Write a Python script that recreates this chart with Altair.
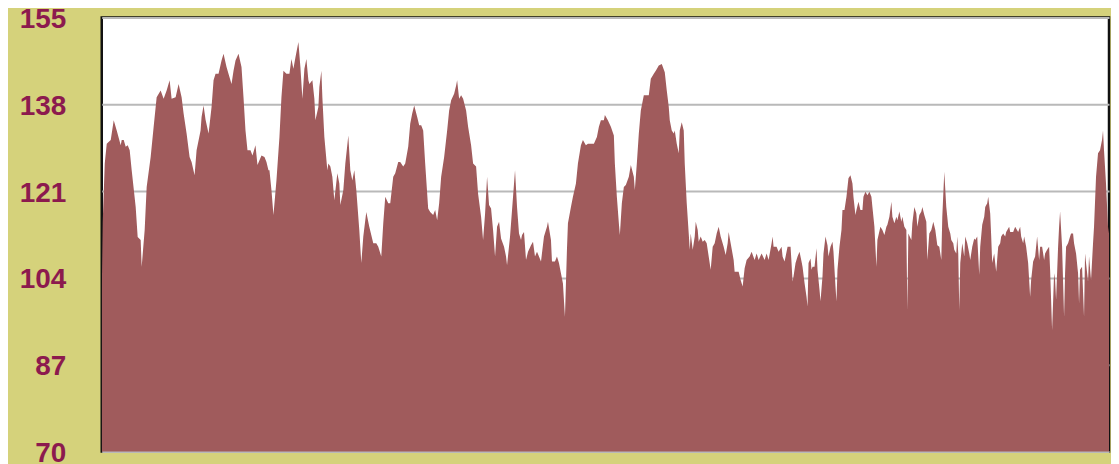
import altair as alt
import pandas as pd

# position along the series (sample index) and value
pos = [
    0, 1, 3, 5, 9, 12, 15, 19, 20, 22, 24, 26, 28, 30, 34, 36, 39, 40, 43, 45, 49, 52, 55, 59, 62, 65, 68, 70,
    74, 77, 80, 82, 85, 88, 90, 93, 95, 99, 100, 102, 104, 107, 110, 112, 114, 117, 120, 122, 125, 128, 130,
    132, 134, 137, 140, 142, 144, 146, 149, 151, 154, 156, 160, 163, 165, 167,
    168, 170, 172, 175, 178, 180, 182, 185, 188, 190, 192, 194, 197, 199, 201, 203, 205, 207, 208, 211, 213,
    214, 217, 218, 220, 221, 223, 226, 227, 229, 231, 233, 236, 238, 239, 242, 244, 247, 249, 251, 253, 255,
    258, 260, 262, 265, 268, 270, 272, 275, 277, 280, 282, 284, 287, 289, 292, 294, 297, 299, 302, 304, 307,
    309, 311, 313, 316, 318, 320, 322, 324, 327, 329, 332, 334,
    336, 338, 340, 343, 346, 348, 350, 353, 355, 356, 358, 360, 362, 365, 367, 370, 372, 375, 377, 380, 382,
    384, 386, 388, 390, 392, 394, 396, 398, 400, 403, 405, 406, 409, 411, 413, 414, 416, 418, 420, 421, 423,
    425, 427, 430, 432, 434, 436, 438, 440, 443, 446, 447, 450, 451, 454, 456, 458, 460, 462, 464, 466, 467,
    470, 472, 475, 477, 480, 482, 485, 487, 490, 493, 496, 498, 500, 503,
    504, 507, 510, 513, 514, 516, 518, 519, 521, 523, 525, 528, 530, 533, 534, 536, 538, 540, 543, 546, 548,
    550, 553, 555, 558, 561, 564, 566, 568, 569, 571, 573, 574, 576, 578, 579, 581, 583, 584, 586, 588, 589,
    590, 592, 594, 595, 597, 598, 600, 602, 604, 606, 608, 610, 612, 614, 616, 618, 620, 623, 625, 627, 628,
    630, 633, 634, 638, 640, 642, 644, 646, 649, 651, 654, 656, 658, 661, 664, 666, 668, 671,
    672, 673, 676, 678, 681, 682, 684, 686, 687, 690, 691, 692, 693, 695, 697, 699, 701, 702, 704, 706, 707,
    708, 710, 711, 712, 714, 716, 717, 719, 720, 722, 723, 725, 727, 728, 730, 732, 733, 735, 736, 737, 739,
    741, 742, 744, 746, 748, 750, 752, 753, 755, 756, 758, 760, 762, 763, 765, 767, 769, 771, 772, 774, 776,
    777, 780, 782, 784, 786, 787, 789, 791, 792, 794, 796, 797, 799, 801, 802, 804, 806, 807, 808, 811, 812,
    814, 816, 817, 819, 821, 822, 824, 826, 827, 829, 831, 833, 835, 837, 839,
    841, 842, 844, 846, 848, 850, 851, 853, 854, 856, 857, 858, 859, 860, 862, 864, 865, 867, 869, 870, 872,
    874, 875, 877, 879, 880, 882, 884, 885, 887, 888, 890, 891, 892, 894, 895, 896, 898, 900, 901, 903, 905,
    906, 909, 910, 913, 915, 918, 920, 921, 923, 924, 926, 928, 930, 931, 933, 935, 937, 939, 940, 942, 944,
    945, 947, 949, 950, 952, 954, 955, 956, 958, 959, 960, 962, 964, 965, 966, 968, 970, 971, 973, 974, 976,
    978, 979, 980, 982, 984, 985, 986, 988, 989, 991, 993, 994, 996, 998, 1000, 1002, 1003, 1004, 1006, 1008,
    1009,
]

val = [
    101.0, 115.0, 126.4, 130.3, 131.0, 134.9, 132.9, 130.0, 131.0, 131.0, 129.7, 130.0, 129.0, 125.1, 117.9,
    112.0, 111.4, 106.2, 113.4, 121.8, 127.7, 133.6, 139.4, 140.7, 139.1, 140.7, 142.7, 139.1, 139.4, 142.0,
    139.4, 136.2, 132.3, 127.7, 126.7, 124.1, 129.0, 132.9, 135.5, 137.8, 135.0, 132.3, 137.5, 142.7, 144.0,
    144.0, 146.6, 147.9, 145.3, 143.3, 142.0, 144.6, 146.6, 147.9, 145.3, 139.4, 132.9, 129.0, 129.0, 128.0,
    130.0, 126.1, 128.0, 127.7, 126.7, 125.1,
    125.1, 121.2, 116.3, 123.1, 131.6, 139.4, 144.6, 144.0, 144.0, 146.9, 145.0, 147.2, 150.2, 145.3, 139.1,
    145.0, 146.9, 142.7, 142.0, 142.7, 139.1, 134.9, 137.5, 141.4, 144.6, 139.4, 131.6, 125.1, 126.4, 125.8,
    123.8, 119.2, 124.5, 122.5, 118.3, 121.2, 126.4, 131.9, 125.1, 123.1, 125.1, 121.2, 113.4, 106.9, 112.1,
    116.9, 114.0, 112.4, 110.8, 110.8, 110.1, 108.2, 114.7, 119.9, 118.6, 118.6, 123.8, 124.5, 126.7, 126.7,
    125.8, 126.4, 129.7, 134.2, 136.2, 137.8, 135.5, 133.9, 133.9, 132.9, 126.4, 117.6, 116.9, 116.3, 117.3,
    115.3, 118.6, 123.8, 127.7, 132.9, 136.8, 138.8, 140.1, 141.7, 142.7, 139.1, 139.8, 139.1, 136.8, 133.6,
    130.0, 126.4, 125.8, 120.5, 116.0, 111.4, 116.6, 123.8, 118.3, 117.6, 113.4, 108.2, 114.0, 115.0, 111.7,
    110.1, 108.2, 106.5, 112.1, 117.3, 122.5, 125.1, 117.9, 112.7, 111.4, 112.4, 113.0, 107.5, 109.1, 110.4,
    111.1, 108.2, 109.1, 108.2, 107.2, 112.1, 114.0, 115.0, 111.4, 107.2, 107.2, 108.2, 106.9, 104.9, 102.9,
    96.4, 109.5, 114.7, 117.9, 119.9, 122.5, 126.4, 130.0, 131.0, 130.0, 130.3, 130.3, 130.3, 131.6, 133.6,
    134.9, 134.9,
    135.9, 134.9, 133.6, 131.9, 126.4, 119.9, 114.7, 112.4, 118.6, 121.8, 122.2, 123.8, 126.1, 123.8, 121.2,
    126.4, 132.3, 136.8, 139.8, 139.8, 139.8, 143.0, 144.0, 144.6, 145.6, 145.9, 144.3, 140.7, 137.5, 134.9,
    132.9, 132.3, 132.9, 130.3, 128.4, 132.9, 134.5, 132.9, 126.4, 118.6, 112.7, 109.5, 112.7, 109.5, 112.1,
    115.0, 113.4, 111.1, 112.1, 111.1, 111.4, 110.8, 108.2, 105.6, 110.1, 110.8, 112.7, 114.0, 112.1, 110.1,
    108.5, 110.8, 113.0, 110.8, 107.5, 105.2, 105.2, 103.6, 102.3, 105.9, 107.5, 108.2, 109.1, 107.5, 108.8,
    107.5, 108.8, 107.5, 108.8, 107.5, 110.8,
    112.1, 110.1, 110.1, 109.1, 110.1, 108.2, 107.2, 109.1, 110.1, 110.1, 106.9, 103.3, 104.3, 106.9, 108.2,
    109.1, 107.2, 106.2, 103.0, 100.3, 98.4, 106.9, 107.8, 105.6, 106.2, 106.2, 109.8, 105.6, 101.7, 99.4,
    104.3, 108.8, 112.1, 110.4, 108.2, 110.1, 111.1, 109.1, 102.3, 99.4, 105.6, 110.1, 113.4, 117.3, 117.3,
    119.9, 123.5, 124.1, 122.5, 119.9, 116.3, 117.3, 118.9, 117.3, 117.3, 119.9, 120.9, 120.2, 120.9, 119.9,
    117.9, 114.0, 106.2, 111.4, 114.0, 113.4, 112.4, 114.0, 114.4, 116.0, 118.9, 116.0, 114.7, 116.0, 115.3,
    117.0, 115.0, 116.0, 114.0, 113.4, 97.7, 112.7, 111.4, 114.7, 117.9, 116.6, 114.0, 116.3, 117.0, 117.9,
    116.3, 115.0, 107.5, 112.7, 113.4, 115.0, 113.4, 110.4, 110.1,
    107.5, 116.0, 124.8, 117.9, 114.0, 112.7, 111.4, 110.8, 109.5, 108.8, 112.1, 108.8, 97.7, 106.9, 110.8,
    108.2, 112.1, 110.8, 108.8, 107.5, 110.1, 111.7, 111.4, 112.1, 104.6, 110.1, 114.4, 116.0, 117.9, 118.6,
    119.9, 116.6, 112.1, 106.9, 108.8, 106.9, 105.2, 110.1, 110.8, 112.1, 112.7, 112.1, 113.0, 114.0, 113.0,
    113.0, 114.0, 113.0, 114.0, 112.1, 110.8, 112.1, 110.1, 106.9, 100.3, 103.6, 107.2, 108.2, 112.1, 107.5,
    110.1, 110.1, 107.5, 108.8, 109.5, 110.1, 105.6, 93.8, 104.9, 103.6, 99.7, 110.1, 114.0, 117.0, 110.1,
    96.4, 104.9, 110.1, 110.8, 112.1, 112.7, 112.7, 110.8, 108.8, 104.9, 99.0, 105.6, 106.2, 96.4, 108.8,
    106.9, 103.3, 108.2, 103.6, 110.8, 114.0, 123.8, 128.4, 129.0, 131.0, 132.9, 129.0, 122.5, 114.0, 112.7,
]

y_ticks = [70, 87, 104, 121, 138, 155]

df = pd.DataFrame({"t": pos, "v": val})

chart = (
    alt.Chart(df)
    .mark_area(color="#a05b5c", interpolate="linear", clip=True, opacity=1)
    .encode(
        x=alt.X("t:Q", scale=alt.Scale(domain=[0, 1009], nice=False, zero=False), axis=None),
        y=alt.Y(
            "v:Q",
            scale=alt.Scale(domain=[70, 155], nice=False, zero=False),
            axis=alt.Axis(
                values=y_ticks,
                title=None,
                grid=True,
                gridColor="#b9b9b9",
                gridWidth=2,
                ticks=False,
                domain=False,
                labelFont="Liberation Sans",
                labelFontWeight="bold",
                labelFontSize=28,
                labelColor="#8c1a4e",
                labelPadding=36,
                labelOffset=2,
            ),
        ),
    )
    .properties(
        width=1010,
        height=435,
        background="#d5d27b",
        padding={"left": 94, "top": 9, "right": 2, "bottom": 12},
        autosize="none",
    )
    .configure_view(stroke="#111111", strokeWidth=2.5, fill="white")
)

chart.save("out.html", embed_options={"renderer": "svg", "actions": False})
